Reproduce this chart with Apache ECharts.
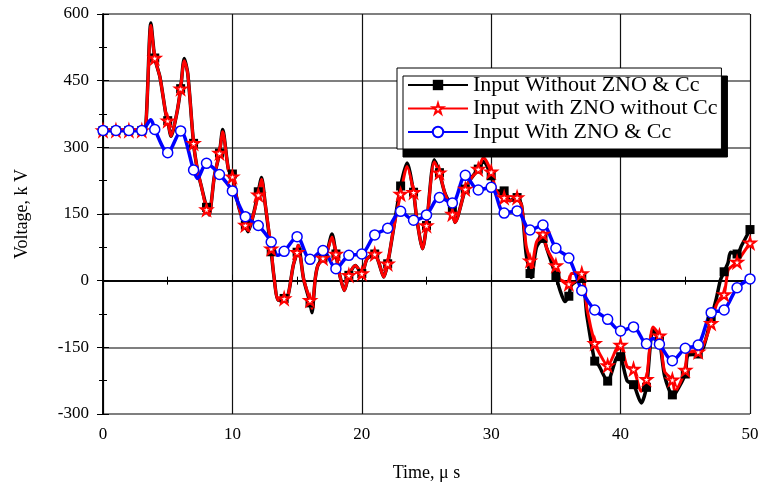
<!DOCTYPE html>
<html>
<head>
<meta charset="utf-8">
<script src="https://cdn.jsdelivr.net/npm/echarts@6/dist/echarts.min.js"></script>
<style>
html, body { margin: 0; padding: 0; background: #fff; }
#chart { width: 763px; height: 487px; }
</style>
</head>
<body>
<div id="chart"></div>
<script>
// time axis (us) for the black and red traces
var t = [0, 1, 2, 3, 3.3, 3.7, 4, 4.4, 4.85, 5, 5.26, 5.7, 6, 6.28, 6.55, 7, 7.3, 7.6, 8, 8.2,
    8.6, 9, 9.25, 9.7, 10, 10.3, 10.6, 11, 11.2, 11.6, 12, 12.25, 12.55, 13, 13.2, 13.55, 14, 14.3, 14.7, 15,
    15.1, 15.5, 16, 16.15, 16.4, 16.6, 17, 17.3, 17.7, 18, 18.3, 18.65, 19, 19.5, 20, 20.4, 21, 21.3, 21.7, 22,
    22.45, 23, 23.5, 24, 24.25, 24.7, 25, 25.6, 26, 26.4, 27, 27.2, 28, 28.4, 29, 29.4, 30, 30.4, 31, 31.45,
    32, 32.35, 32.7, 33, 33.1, 33.5, 34, 34.3, 35, 35.3, 35.7, 36, 36.2, 37, 37.4, 38, 38.3, 39, 39.8, 40,
    40.5, 41, 41.6, 42, 42.5, 43, 43.4, 44, 44.2, 45, 45.2, 46, 46.4, 47, 47.4, 47.7, 48, 48.3, 48.5, 49,
    49.35, 50];
var noZnoNoCc = [338, 338, 338, 338, 345, 580, 501, 458, 376, 360, 325, 376, 432, 500, 466, 309, 249, 212, 165, 148,
    234, 287, 340, 249, 240, 191, 155, 125, 110, 146, 200, 232, 169, 65, 12, -44, -40, -33, 34, 64,
    79, 4, -50, -72, 4, 34, 51, 64, 105, 60, 12, -22, 12, 34, 16, 49, 60, 42, 8, 38,
    116, 213, 265, 199, 139, 72, 124, 272, 243, 199, 160, 131, 206, 228, 251, 268, 236, 202, 202, 180,
    187, 169, 60, 16, 7, 75, 95, 72, 10, -20, -47, -35, -10, 5, -80, -181, -190, -226, -170, -171,
    -225, -234, -275, -240, -111, -135, -214, -257, -255, -210, -168, -165, -150, -85, -40, 0, 20, 40, 64, 60,
    79, 115];
var znoNoCc = [338, 338, 338, 338, 345, 574, 501, 458, 376, 360, 325, 376, 432, 495, 466, 309, 249, 212, 160, 148,
    234, 287, 335, 249, 234, 191, 155, 125, 113, 146, 193, 228, 169, 72, 12, -44, -40, -33, 34, 64,
    79, 4, -44, -62, 4, 34, 51, 64, 98, 60, 12, -22, 12, 34, 16, 49, 60, 42, 8, 38,
    116, 195, 257, 199, 139, 72, 124, 267, 243, 199, 150, 131, 206, 228, 251, 277, 245, 202, 187, 180,
    187, 169, 79, 45, 27, 87, 105, 72, 34, 4, -3, -7, 16, 16, -63, -141, -160, -191, -146, -145,
    -193, -199, -249, -222, -104, -124, -204, -223, -249, -201, -160, -160, -145, -96, -55, -40, -31, 23, 30, 42,
    57, 85];

// blue trace
var tB = [0, 1, 2, 3, 3.7, 4, 5, 6, 7, 7.3, 8, 9, 10, 11, 12, 13, 13.5, 14, 15, 16, 17, 18, 19, 20, 21, 22, 23, 24,
    25, 26, 27, 28, 29, 30, 31, 32, 33, 34, 35, 36, 37, 38, 39, 40, 41, 42, 42.5, 43, 44, 45, 46, 47, 48, 49, 50];
var znoCc = [338, 338, 338, 338, 362, 340, 288, 337, 249, 230, 264, 239, 202, 144, 124, 87, 57, 66, 99, 48, 68, 27, 57, 60, 103, 118, 156, 136,
    148, 187, 175, 237, 204, 210, 152, 157, 114, 125, 73, 51, -22, -66, -87, -113, -104, -142, -130, -143, -180, -152, -145, -72, -66, -16, 4];

var names = ['Input Without ZNO & Cc', 'Input with ZNO without Cc', 'Input With ZNO & Cc'];
var starPath = 'path://M50,0 L61,35 L98,35 L68,57 L79,91 L50,70 L21,91 L32,57 L2,35 L39,35 Z';
var serif = 'Liberation Serif';

// markers only on whole microseconds
function pts(xs, ys) {
    var out = [];
    for (var i = 0; i < xs.length; i++) {
        if (xs[i] % 1 === 0) out.push([xs[i], ys[i]]);
        else out.push({ value: [xs[i], ys[i]], symbol: 'none' });
    }
    return out;
}

var myChart = echarts.init(document.getElementById('chart'));
var option = {
    animation: false,
    backgroundColor: '#fff',
    grid: { left: 103, right: 13, top: 14, bottom: 71 },
    legend: {
        data: names,
        orient: 'vertical',
        left: 397,
        top: 68,
        padding: [6, 4, 6, 10],
        itemGap: 1.5,
        itemWidth: 60,
        itemHeight: 13,
        selectedMode: false,
        backgroundColor: '#fff',
        borderColor: '#000',
        borderWidth: 1,
        borderRadius: 0,
        shadowColor: '#000',
        shadowBlur: 0,
        shadowOffsetX: 6,
        shadowOffsetY: 8,
        textStyle: { fontFamily: serif, fontSize: 22, color: '#000' }
    },
    xAxis: [{
        type: 'value', min: 0, max: 50, interval: 10,
        name: 'Time, μ s', nameLocation: 'middle', nameGap: 50,
        nameTextStyle: { fontFamily: serif, fontSize: 18, color: '#000' },
        axisLine: { lineStyle: { color: '#000', width: 1.5 } },
        axisTick: { inside: true, length: 6, lineStyle: { color: '#000' } },
        minorTick: { show: true, splitNumber: 2, length: 4, lineStyle: { color: '#000' } },
        axisLabel: { fontFamily: serif, fontSize: 17, color: '#000', margin: 12 },
        splitLine: { show: true, lineStyle: { color: '#111', width: 1.2 } }
    }, {
        type: 'value', min: 0, max: 50, interval: 10, position: 'top',
        axisLine: { lineStyle: { color: '#000', width: 1.5 } },
        axisTick: { inside: true, length: 6, lineStyle: { color: '#000' } },
        minorTick: { show: true, splitNumber: 2, length: 4, lineStyle: { color: '#000' } },
        axisLabel: { show: false },
        splitLine: { show: false }
    }],
    yAxis: [{
        type: 'value', min: -300, max: 600, interval: 150,
        name: 'Voltage, k V', nameLocation: 'middle', nameGap: 72,
        nameTextStyle: { fontFamily: serif, fontSize: 18, color: '#000' },
        axisLine: { show: true, lineStyle: { color: '#000', width: 1.5 } },
        axisTick: { show: true, inside: true, length: 6, lineStyle: { color: '#000' } },
        minorTick: { show: true, splitNumber: 2, length: 4, lineStyle: { color: '#000' } },
        axisLabel: { fontFamily: serif, fontSize: 17, color: '#000', margin: 14 },
        splitLine: { show: true, lineStyle: { color: '#555', width: 1.5 } }
    }, {
        type: 'value', min: -300, max: 600, interval: 150, position: 'right',
        axisLine: { show: true, lineStyle: { color: '#000', width: 1.5 } },
        axisTick: { show: true, inside: true, length: 6, lineStyle: { color: '#000' } },
        minorTick: { show: true, splitNumber: 2, length: 4, lineStyle: { color: '#000' } },
        axisLabel: { show: false },
        splitLine: { show: false }
    }],
    series: [
        {
            name: names[0], type: 'line', smooth: 0.25,
            data: pts(t, noZnoNoCc),
            symbol: 'rect', symbolSize: 9,
            lineStyle: { color: '#000', width: 3.5 },
            itemStyle: { color: '#000' }
        },
        {
            name: names[1], type: 'line', smooth: 0.25,
            data: pts(t, znoNoCc),
            symbol: starPath, symbolSize: 11,
            lineStyle: { color: '#f00', width: 3 },
            itemStyle: { color: '#fff', borderColor: '#f00', borderWidth: 2 }
        },
        {
            name: names[2], type: 'line', smooth: 0.3,
            data: pts(tB, znoCc),
            symbol: 'circle', symbolSize: 10,
            lineStyle: { color: '#00f', width: 3.5 },
            itemStyle: { color: '#fff', borderColor: '#00f', borderWidth: 1.5 }
        }
    ]
};
myChart.setOption(option);
</script>
</body>
</html>
